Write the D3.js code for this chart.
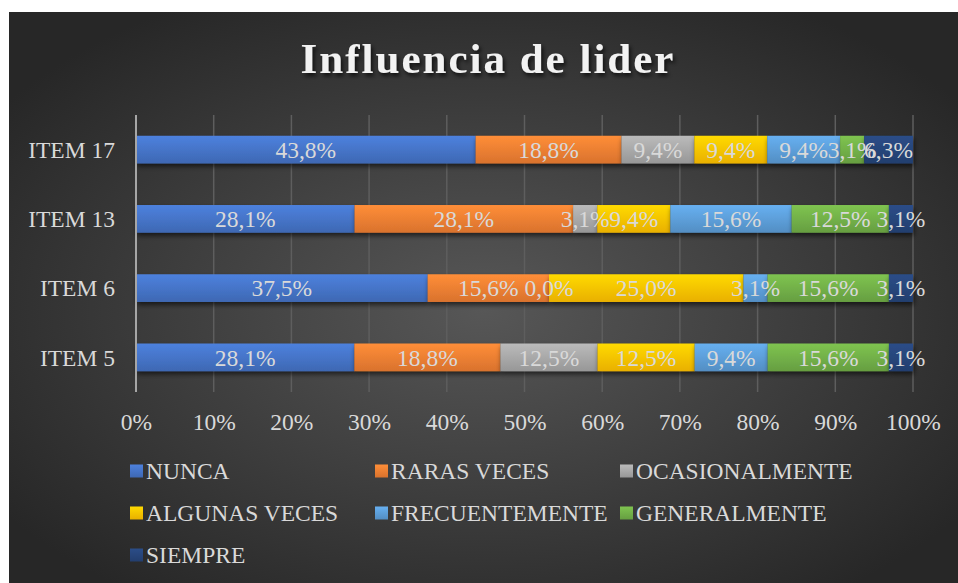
<!DOCTYPE html>
<html><head><meta charset="utf-8">
<script src="https://cdn.jsdelivr.net/npm/d3@7"></script>
<style>html,body{margin:0;padding:0;background:#fff;}svg{display:block;}</style>
</head><body>
<svg id="c" width="958" height="583"></svg>
<script>
const categories = ["ITEM 5", "ITEM 6", "ITEM 13", "ITEM 17"];
const seriesNames = ["NUNCA", "RARAS VECES", "OCASIONALMENTE", "ALGUNAS VECES", "FRECUENTEMENTE", "GENERALMENTE", "SIEMPRE"];
const nunca =          [28.1, 37.5, 28.1, 43.8];
const rarasVeces =     [18.8, 15.6, 28.1, 18.8];
const ocasionalmente = [12.5, 0.0, 3.1, 9.4];
const algunasVeces =   [12.5, 25.0, 9.4, 9.4];
const frecuentemente = [9.4, 3.1, 15.6, 9.4];
const generalmente =   [15.6, 15.6, 12.5, 3.1];
const siempre =        [3.1, 3.1, 3.1, 6.3];
const colors = ["#4472c4", "#ed7d31", "#a5a5a5", "#ffc000", "#5b9bd5", "#70ad47", "#264478"];
const xTicks = [0, 0.1, 0.2, 0.3, 0.4, 0.5, 0.6, 0.7, 0.8, 0.9, 1];
const titleText = "Influencia de lider";

const seriesValues = [nunca, rarasVeces, ocasionalmente, algunasVeces, frecuentemente, generalmente, siempre];
const rows = categories.map((c, i) => {
  const r = {cat: c};
  seriesNames.forEach((s, j) => r[s] = seriesValues[j][i]);
  return r;
});
const stacked = d3.stack().keys(seriesNames).offset(d3.stackOffsetExpand)(rows);

const svg = d3.select("#c");
const defs = svg.append("defs");
const bg = defs.append("radialGradient").attr("id", "bg")
  .attr("cx", "50%").attr("cy", "52%").attr("r", "62%")
  .attr("gradientUnits", "objectBoundingBox");
bg.append("stop").attr("offset", "0%").attr("stop-color", "#575757");
bg.append("stop").attr("offset", "100%").attr("stop-color", "#272727");

colors.forEach((c, i) => {
  const g = defs.append("linearGradient").attr("id", "g" + i).attr("x1", 0).attr("y1", 0).attr("x2", 0).attr("y2", 1);
  g.append("stop").attr("offset", "0%").attr("stop-color", d3.color(c).brighter(0.35));
  g.append("stop").attr("offset", "100%").attr("stop-color", d3.color(c).darker(0.25));
});
const sh = defs.append("filter").attr("id", "shadow").attr("x", "-10%").attr("y", "-30%").attr("width", "130%").attr("height", "190%");
sh.append("feDropShadow").attr("dx", 1).attr("dy", 3).attr("stdDeviation", 2.5).attr("flood-color", "#000").attr("flood-opacity", 0.6);
const tsh = defs.append("filter").attr("id", "tshadow").attr("x", "-10%").attr("y", "-30%").attr("width", "130%").attr("height", "170%");
tsh.append("feDropShadow").attr("dx", 2).attr("dy", 3).attr("stdDeviation", 2).attr("flood-color", "#000").attr("flood-opacity", 0.7);

svg.append("rect").attr("x", 9).attr("y", 12).attr("width", 949).attr("height", 571).attr("fill", "url(#bg)");

const x = d3.scaleLinear().domain([0, 1]).range([136, 913]);
const y = d3.scaleBand().domain(categories.slice().reverse()).range([115, 392]).paddingInner(0.6).paddingOuter(0.3);

// gridlines
svg.append("g").selectAll("line").data(xTicks.slice(1)).join("line")
  .attr("x1", d => x(d)).attr("x2", d => x(d)).attr("y1", 115).attr("y2", 392)
  .attr("stroke", "#5e5e5e").attr("stroke-width", 1.5);

// bars
const gBars = svg.append("g");
stacked.forEach((s, j) => {
  gBars.append("g").attr("filter", "url(#shadow)").selectAll("rect").data(s).join("rect")
    .attr("x", d => x(d[0])).attr("width", d => x(d[1]) - x(d[0]))
    .attr("y", d => y(d.data.cat)).attr("height", y.bandwidth())
    .attr("fill", "url(#g" + j + ")");
});

// axis line
svg.append("line").attr("x1", x(0)).attr("x2", x(0)).attr("y1", 115).attr("y2", 392)
  .attr("stroke", "#a6a6a6").attr("stroke-width", 2);

const font = "'Liberation Serif','Times New Roman',serif";
const txt = "#d9d9d9";

// data labels
stacked.forEach((s, j) => {
  svg.append("g").selectAll("text").data(s).join("text")
    .attr("x", d => (x(d[0]) + x(d[1])) / 2)
    .attr("y", d => y(d.data.cat) + y.bandwidth() / 2)
    .attr("dy", "0.35em").attr("text-anchor", "middle")
    .attr("font-family", font).attr("font-size", 23.5).attr("fill", txt)
    .text(d => d3.format(".1f")(d.data[seriesNames[j]]).replace(".", ",") + "%");
});

// x axis
const xAxis = d3.axisBottom(x).tickValues(xTicks).tickFormat(d3.format(".0%")).tickSize(0).tickPadding(0);
const gx = svg.append("g").attr("transform", "translate(0,422)").call(xAxis);
gx.select(".domain").remove();
gx.selectAll("text").attr("dy", "0.35em").attr("font-family", font).attr("font-size", 23.5).attr("fill", txt);

// y axis
const yAxis = d3.axisLeft(y).tickSize(0).tickPadding(0);
const gy = svg.append("g").attr("transform", "translate(115,0)").call(yAxis);
gy.select(".domain").remove();
gy.selectAll("text").attr("dy", "0.35em").attr("font-family", font).attr("font-size", 23.5).attr("fill", txt);

// title
svg.append("text").attr("x", 488).attr("y", 73).attr("text-anchor", "middle")
  .attr("font-family", font).attr("font-weight", "bold").attr("font-size", 43)
  .attr("letter-spacing", 2).attr("fill", "#f2f2f2").attr("filter", "url(#tshadow)")
  .text(titleText);

// legend
const legX = [130, 375, 620], legY = [471, 513, 555];
const leg = svg.append("g").selectAll("g").data(seriesNames).join("g")
  .attr("transform", (d, i) => `translate(${legX[i % 3]},${legY[Math.floor(i / 3)]})`);
leg.append("rect").attr("x", 0).attr("y", -6.5).attr("width", 13).attr("height", 13)
  .attr("fill", (d, i) => "url(#g" + i + ")");
leg.append("text").attr("x", 16).attr("dy", "0.35em")
  .attr("font-family", font).attr("font-size", 23.5).attr("fill", txt)
  .text(d => d);
</script>
</body></html>
